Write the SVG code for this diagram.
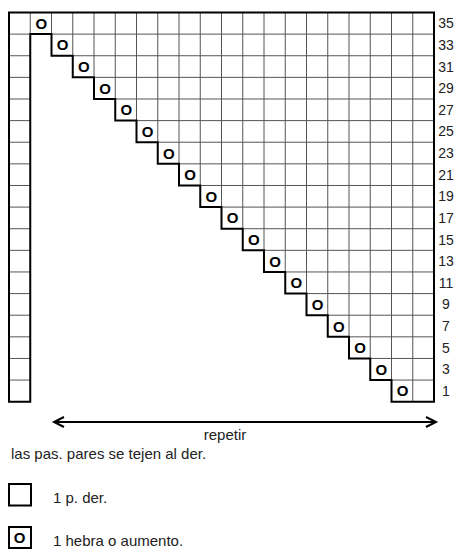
<svg xmlns="http://www.w3.org/2000/svg" width="457" height="549" viewBox="0 0 457 549">
<style>
.bg{fill:#fff}
.thin{stroke:#555;stroke-width:1;fill:none}
.thick{stroke:#000;stroke-width:2;fill:none;stroke-linejoin:miter}
.o{font-family:"Liberation Sans",Arial,sans-serif;font-weight:bold;font-size:15px;fill:#000;text-anchor:middle}
.lab{font-family:"Liberation Sans",Arial,sans-serif;font-size:14px;fill:#222;text-anchor:middle}
.txt{font-family:"Liberation Sans",Arial,sans-serif;font-size:15px;fill:#222}
.arr{stroke:#000;stroke-width:2;fill:none}
</style>
<defs>
<marker id="chev" markerUnits="userSpaceOnUse" markerWidth="16" markerHeight="16" refX="11" refY="7" orient="auto-start-reverse" viewBox="0 0 16 16">
<path d="M1,2 L11,7 L1,12" fill="none" stroke="#000" stroke-width="2"/>
</marker>
</defs>
<rect class="bg" x="0" y="0" width="457" height="549"/>
<g id="chart">
<g id="grid-thin" class="thin">
<path d="M9,34.12H30.25M9,55.74H30.25M9,77.37H30.25M9,98.99H30.25M9,120.61H30.25M9,142.23H30.25M9,163.85H30.25M9,185.48H30.25M9,207.1H30.25M9,228.72H30.25M9,250.34H30.25M9,271.96H30.25M9,293.59H30.25M9,315.21H30.25M9,336.83H30.25M9,358.45H30.25M9,380.07H30.25"/>
<path d="M51.5,34.12H434M72.75,55.74H434M94,77.37H434M115.25,98.99H434M136.5,120.61H434M157.75,142.23H434M179,163.85H434M200.25,185.48H434M221.5,207.1H434M242.75,228.72H434M264,250.34H434M285.25,271.96H434M306.5,293.59H434M327.75,315.21H434M349,336.83H434M370.25,358.45H434M391.5,380.07H434"/>
<path d="M30.25,12.5V34.12M51.5,12.5V34.12M72.75,12.5V55.74M94,12.5V77.37M115.25,12.5V98.99M136.5,12.5V120.61M157.75,12.5V142.23M179,12.5V163.85M200.25,12.5V185.48M221.5,12.5V207.1M242.75,12.5V228.72M264,12.5V250.34M285.25,12.5V271.96M306.5,12.5V293.59M327.75,12.5V315.21M349,12.5V336.83M370.25,12.5V358.45M391.5,12.5V380.07M412.75,12.5V401.7"/>
</g>
<path id="outline" class="thick" d="M30.25,34.12H51.5V55.74H72.75V77.37H94V98.99H115.25V120.61H136.5V142.23H157.75V163.85H179V185.48H200.25V207.1H221.5V228.72H242.75V250.34H264V271.96H285.25V293.59H306.5V315.21H327.75V336.83H349V358.45H370.25V380.07H391.5V401.7H434V12.5H9V401.7H30.25Z"/>
<g id="increases">
<text class="o" x="41.4" y="28.8">O</text>
<text class="o" x="62.6" y="50.4">O</text>
<text class="o" x="83.9" y="72.1">O</text>
<text class="o" x="105.1" y="93.7">O</text>
<text class="o" x="126.4" y="115.3">O</text>
<text class="o" x="147.6" y="136.9">O</text>
<text class="o" x="168.9" y="158.5">O</text>
<text class="o" x="190.1" y="180.2">O</text>
<text class="o" x="211.4" y="201.8">O</text>
<text class="o" x="232.6" y="223.4">O</text>
<text class="o" x="253.9" y="245">O</text>
<text class="o" x="275.1" y="266.7">O</text>
<text class="o" x="296.4" y="288.3">O</text>
<text class="o" x="317.6" y="309.9">O</text>
<text class="o" x="338.9" y="331.5">O</text>
<text class="o" x="360.1" y="353.1">O</text>
<text class="o" x="381.4" y="374.8">O</text>
<text class="o" x="402.6" y="396.4">O</text>
</g>
<g id="row-labels">
<text class="lab" x="446" y="28.3">35</text>
<text class="lab" x="446" y="49.9">33</text>
<text class="lab" x="446" y="71.6">31</text>
<text class="lab" x="446" y="93.2">29</text>
<text class="lab" x="446" y="114.8">27</text>
<text class="lab" x="446" y="136.4">25</text>
<text class="lab" x="446" y="158">23</text>
<text class="lab" x="446" y="179.7">21</text>
<text class="lab" x="446" y="201.3">19</text>
<text class="lab" x="446" y="222.9">17</text>
<text class="lab" x="446" y="244.5">15</text>
<text class="lab" x="446" y="266.2">13</text>
<text class="lab" x="446" y="287.8">11</text>
<text class="lab" x="446" y="309.4">9</text>
<text class="lab" x="446" y="331">7</text>
<text class="lab" x="446" y="352.6">5</text>
<text class="lab" x="446" y="374.3">3</text>
<text class="lab" x="446" y="395.9">1</text>
</g>
</g>
<g id="connectors">
<line class="arr" x1="54" y1="422" x2="436" y2="422" marker-start="url(#chev)" marker-end="url(#chev)"/>
</g>
<g id="repeat-label">
<text class="txt" x="225" y="440" text-anchor="middle">repetir</text>
</g>
<g id="note">
<text class="txt" x="11" y="459">las pas. pares se tejen al der.</text>
</g>
<g id="legend-knit">
<rect class="thick" x="9" y="484" width="22" height="21.5"/>
<text class="txt" x="53" y="503">1 p. der.</text>
</g>
<g id="legend-yo">
<rect class="thick" x="9" y="527" width="22" height="21"/>
<text class="o" x="19.5" y="543">O</text>
<text class="txt" x="53" y="546">1 hebra o aumento.</text>
</g>
</svg>
